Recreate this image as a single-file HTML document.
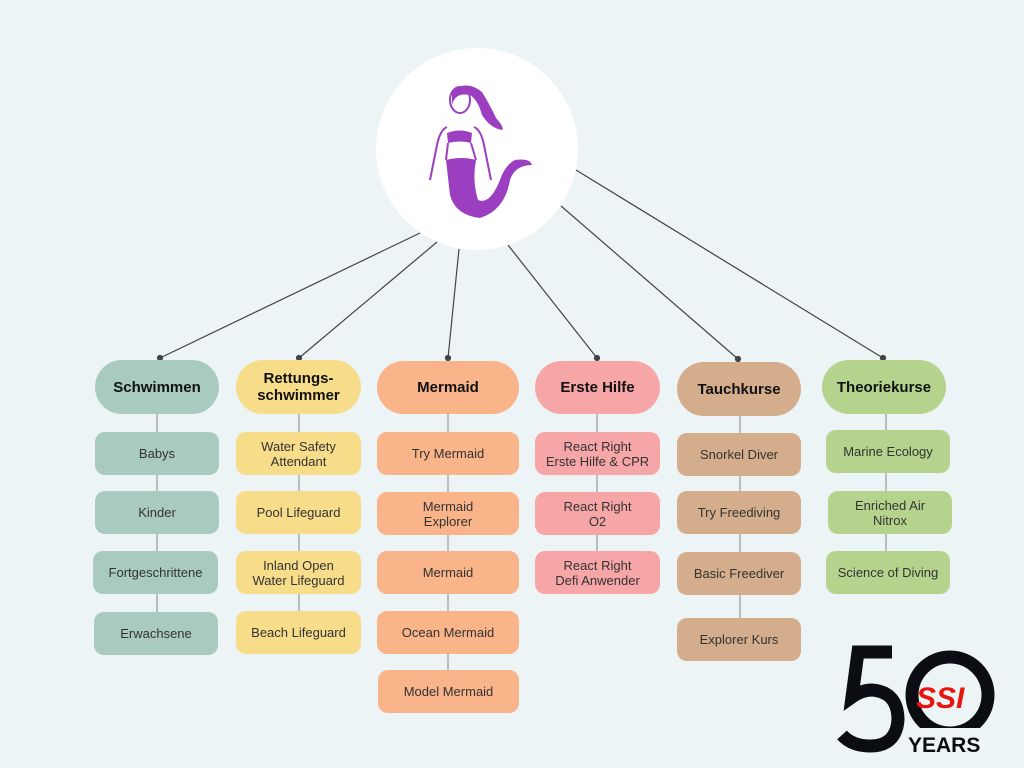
<!DOCTYPE html>
<html><head><meta charset="utf-8"><style>
body{margin:0;width:1024px;height:768px;background:#ECF4F6;position:relative;overflow:hidden;font-family:"Liberation Sans",sans-serif}
.b{position:absolute;display:flex;align-items:center;justify-content:center;text-align:center;font-size:13px;color:#333;border-radius:10px;line-height:15px}
.h{font-weight:bold;font-size:15px;color:#111;border-radius:27px;line-height:17px}
.g{background:#A9CABE}.y{background:#F7DC8A}.o{background:#F9B48A}.r{background:#F7A6A7}.t{background:#D3AD8C}.l{background:#B6D38D}
</style></head><body>
<svg width="1024" height="768" style="position:absolute;left:0;top:0">
<g stroke="#444" stroke-width="1.2" fill="#444">
<line x1="420" y1="233" x2="160" y2="358"/><circle cx="160" cy="358" r="2.5"/>
<line x1="437" y1="242" x2="299" y2="358"/><circle cx="299" cy="358" r="2.5"/>
<line x1="459" y1="249" x2="448" y2="358"/><circle cx="448" cy="358" r="2.5"/>
<line x1="508" y1="245" x2="597" y2="358"/><circle cx="597" cy="358" r="2.5"/>
<line x1="561" y1="206" x2="738" y2="359"/><circle cx="738" cy="359" r="2.5"/>
<line x1="576" y1="170" x2="883" y2="358"/><circle cx="883" cy="358" r="2.5"/>
</g>
<g stroke="#888" stroke-width="1">
<line x1="157" y1="414" x2="157" y2="640"/>
<line x1="299" y1="414" x2="299" y2="640"/>
<line x1="448" y1="414" x2="448" y2="700"/>
<line x1="597" y1="414" x2="597" y2="580"/>
<line x1="740" y1="416" x2="740" y2="640"/>
<line x1="886" y1="414" x2="886" y2="580"/>
</g>
<circle cx="477" cy="149" r="101" fill="#fff"/>
<g fill="#9B3FC0">
<path d="M452 90 Q468 80 482 92 Q490 105 496 118 Q505 128 502 130 Q490 128 482 115 Q478 100 470 95 Q455 92 452 105 Z"/>
<ellipse cx="460" cy="100" rx="10" ry="13" fill="none" stroke="#9B3FC0" stroke-width="2"/>
<path d="M447 133 Q460 128 472 133 L471 143 Q460 140 448 143 Z"/>
<path d="M446 160 Q462 156 476 160 Q472 180 478 200 Q490 205 500 180 Q505 165 515 160 Q530 158 532 165 Q515 165 510 180 Q505 210 480 218 Q455 215 450 195 Z"/>
</g>
<g fill="none" stroke="#9B3FC0" stroke-width="2">
<path d="M447 127 Q440 130 437 145 L430 180 M474 127 Q481 130 484 145 L491 180"/>
<path d="M448 143 L446 160 M471 143 L476 160"/>
</g>
<g fill="none" stroke="#0c0d12" stroke-width="13">
<path d="M892 652 H858 L852 697 Q862 690 872 690 Q898 692 898 720 Q896 746 870 746 Q852 746 842 735"/>
<circle cx="950" cy="695" r="38"/>
</g>
<rect x="905" y="728" width="80" height="26" fill="#ECF4F6"/>
<text x="908" y="752" font-family="Liberation Sans" font-weight="bold" font-size="21" fill="#0c0d12">YEARS</text>
<text x="916" y="708" font-family="Liberation Sans" font-weight="bold" font-style="italic" font-size="30" fill="#E8140E">SSI</text>
</svg>
<div class="b h g" style="left:95px;top:360px;width:124px;height:54px">Schwimmen</div>
<div class="b g" style="left:95px;top:432px;width:124px;height:43px">Babys</div>
<div class="b g" style="left:95px;top:491px;width:124px;height:43px">Kinder</div>
<div class="b g" style="left:93px;top:551px;width:125px;height:43px">Fortgeschrittene</div>
<div class="b g" style="left:94px;top:612px;width:124px;height:43px">Erwachsene</div>

<div class="b h y" style="left:236px;top:360px;width:125px;height:54px">Rettungs-<br>schwimmer</div>
<div class="b y" style="left:236px;top:432px;width:125px;height:43px">Water Safety<br>Attendant</div>
<div class="b y" style="left:236px;top:491px;width:125px;height:43px">Pool Lifeguard</div>
<div class="b y" style="left:236px;top:551px;width:125px;height:43px">Inland Open<br>Water Lifeguard</div>
<div class="b y" style="left:236px;top:611px;width:125px;height:43px">Beach Lifeguard</div>

<div class="b h o" style="left:377px;top:361px;width:142px;height:53px">Mermaid</div>
<div class="b o" style="left:377px;top:432px;width:142px;height:43px">Try Mermaid</div>
<div class="b o" style="left:377px;top:492px;width:142px;height:43px">Mermaid<br>Explorer</div>
<div class="b o" style="left:377px;top:551px;width:142px;height:43px">Mermaid</div>
<div class="b o" style="left:377px;top:611px;width:142px;height:43px">Ocean Mermaid</div>
<div class="b o" style="left:378px;top:670px;width:141px;height:43px">Model Mermaid</div>

<div class="b h r" style="left:535px;top:361px;width:125px;height:53px">Erste Hilfe</div>
<div class="b r" style="left:535px;top:432px;width:125px;height:43px">React Right<br>Erste Hilfe &amp; CPR</div>
<div class="b r" style="left:535px;top:492px;width:125px;height:43px">React Right<br>O2</div>
<div class="b r" style="left:535px;top:551px;width:125px;height:43px">React Right<br>Defi Anwender</div>

<div class="b h t" style="left:677px;top:362px;width:124px;height:54px">Tauchkurse</div>
<div class="b t" style="left:677px;top:433px;width:124px;height:43px">Snorkel Diver</div>
<div class="b t" style="left:677px;top:491px;width:124px;height:43px">Try Freediving</div>
<div class="b t" style="left:677px;top:552px;width:124px;height:43px">Basic Freediver</div>
<div class="b t" style="left:677px;top:618px;width:124px;height:43px">Explorer Kurs</div>

<div class="b h l" style="left:822px;top:360px;width:124px;height:54px">Theoriekurse</div>
<div class="b l" style="left:826px;top:430px;width:124px;height:43px">Marine Ecology</div>
<div class="b l" style="left:828px;top:491px;width:124px;height:43px">Enriched Air<br>Nitrox</div>
<div class="b l" style="left:826px;top:551px;width:124px;height:43px">Science of Diving</div>
</body></html>
